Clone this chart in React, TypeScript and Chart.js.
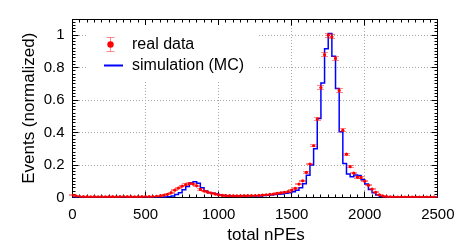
import React, { useEffect, useRef } from "react";
import { Chart, registerables } from "chart.js";

Chart.register(...registerables);

// ---- data ----
const binEdges = [
  0, 25, 50, 75, 100, 125, 150, 175, 200, 225,
  250, 275, 300, 325, 350, 375, 400, 425, 450, 475,
  500, 525, 550, 575, 600, 625, 650, 675, 700, 725,
  750, 775, 800, 825, 850, 875, 900, 925, 950, 975,
  1000, 1025, 1050, 1075, 1100, 1125, 1150, 1175, 1200, 1225,
  1250, 1275, 1300, 1325, 1350, 1375, 1400, 1425, 1450, 1475,
  1500, 1525, 1550, 1575, 1600, 1625, 1650, 1675, 1700, 1725,
  1750, 1775, 1800, 1825, 1850, 1875, 1900, 1925, 1950, 1975,
  2000, 2025, 2050, 2075, 2100, 2125, 2150, 2175, 2200, 2225,
  2250, 2275, 2300, 2325, 2350, 2375, 2400, 2425, 2450, 2475,
  2500,
];

const dataVals = [
  0.015, 0.008, 0.006, 0.005, 0.005, 0.004, 0.005, 0.004, 0.005, 0.004,
  0.005, 0.005, 0.004, 0.005, 0.006, 0.005, 0.005, 0.004, 0.005, 0.005,
  0.006, 0.005, 0.006, 0.007, 0.010, 0.014, 0.020, 0.030, 0.045, 0.058,
  0.070, 0.080, 0.086, 0.083, 0.072, 0.050, 0.040, 0.033, 0.027, 0.022,
  0.016, 0.013, 0.011, 0.011, 0.010, 0.010, 0.010, 0.011, 0.011, 0.012,
  0.012, 0.013, 0.015, 0.017, 0.019, 0.021, 0.025, 0.028, 0.032, 0.036,
  0.046, 0.056, 0.083, 0.103, 0.155, 0.206, 0.319, 0.483, 0.678, 0.880,
  1.000, 0.990, 0.857, 0.660, 0.415, 0.267, 0.190, 0.150, 0.125, 0.122,
  0.100, 0.075, 0.052, 0.032, 0.017, 0.009, 0.005, 0.004, 0.003, 0.003,
  0.002, 0.003, 0.002, 0.002, 0.003, 0.002, 0.002, 0.002, 0.002, 0.002,
];

const dataErr = [
  0.003, 0.002, 0.002, 0.002, 0.002, 0.002, 0.002, 0.002, 0.002, 0.002,
  0.002, 0.002, 0.002, 0.002, 0.002, 0.002, 0.002, 0.002, 0.002, 0.002,
  0.002, 0.002, 0.002, 0.002, 0.003, 0.003, 0.003, 0.003, 0.004, 0.004,
  0.004, 0.004, 0.004, 0.004, 0.004, 0.004, 0.003, 0.003, 0.003, 0.003,
  0.003, 0.003, 0.002, 0.002, 0.002, 0.002, 0.002, 0.002, 0.002, 0.002,
  0.002, 0.002, 0.002, 0.002, 0.002, 0.002, 0.003, 0.003, 0.003, 0.003,
  0.003, 0.003, 0.004, 0.004, 0.005, 0.005, 0.007, 0.008, 0.010, 0.012,
  0.013, 0.013, 0.012, 0.010, 0.008, 0.007, 0.006, 0.005, 0.005, 0.005,
  0.004, 0.004, 0.003, 0.003, 0.002, 0.002, 0.002, 0.002, 0.002, 0.002,
  0.002, 0.002, 0.002, 0.002, 0.002, 0.002, 0.002, 0.002, 0.002, 0.002,
];

const mcVals = [
  0.002, 0.002, 0.002, 0.002, 0.002, 0.002, 0.002, 0.002, 0.002, 0.002,
  0.002, 0.002, 0.002, 0.002, 0.002, 0.002, 0.002, 0.002, 0.002, 0.002,
  0.002, 0.002, 0.002, 0.002, 0.002, 0.003, 0.005, 0.010, 0.018, 0.030,
  0.048, 0.068, 0.090, 0.097, 0.088, 0.060, 0.040, 0.030, 0.026, 0.022,
  0.016, 0.012, 0.010, 0.009, 0.009, 0.009, 0.009, 0.009, 0.009, 0.009,
  0.009, 0.010, 0.012, 0.014, 0.016, 0.018, 0.020, 0.022, 0.026, 0.030,
  0.035, 0.045, 0.060, 0.085, 0.137, 0.200, 0.300, 0.487, 0.705, 0.916,
  1.010, 0.870, 0.672, 0.405, 0.210, 0.145, 0.128, 0.138, 0.135, 0.110,
  0.083, 0.050, 0.030, 0.015, 0.006, 0.003, 0.001, 0.001, 0.001, 0.001,
  0.001, 0.001, 0.001, 0.001, 0.001, 0.001, 0.001, 0.001, 0.001, 0.001,
];

const xTickValues = [0, 500, 1000, 1500, 2000, 2500];
const yTickValues = [0, 0.2, 0.4, 0.6, 0.8, 1];
const seriesLabels = ["real data", "simulation (MC)"];
const xTitle = "total nPEs";
const yTitle = "Events (normalized)";

const FONT = "'Liberation Sans', Arial, Helvetica, sans-serif";
const RED = "#ff0000";
const ERR = "rgba(255,0,0,0.45)";
const BLUE = "#0000ff";

const crisp = (v: number) => Math.floor(v) + 0.5;

const errorBarPlugin = {
  id: "errorBars",
  afterDatasetDraw(chart: any, args: any) {
    if (args.index !== 1) return;
    const { ctx, scales } = chart;
    const xs = scales.x;
    const ys = scales.y;
    ctx.save();
    ctx.strokeStyle = ERR;
    ctx.lineWidth = 1;
    ctx.beginPath();
    for (let i = 0; i < dataVals.length; i++) {
      const px = crisp(xs.getPixelForValue(binEdges[i]));
      const y1 = ys.getPixelForValue(dataVals[i] - dataErr[i]);
      const y2 = ys.getPixelForValue(dataVals[i] + dataErr[i]);
      ctx.moveTo(px, y1);
      ctx.lineTo(px, y2);
      ctx.moveTo(px - 3.5, crisp(y1));
      ctx.lineTo(px + 3.5, crisp(y1));
      ctx.moveTo(px - 3.5, crisp(y2));
      ctx.lineTo(px + 3.5, crisp(y2));
    }
    ctx.stroke();
    ctx.restore();
  },
};

const framePlugin = {
  id: "frame",
  beforeDatasetsDraw(chart: any) {
    const { ctx, chartArea: a, scales } = chart;
    const xs = scales.x;
    const ys = scales.y;
    const L = crisp(a.left), R = crisp(a.right), T = crisp(a.top), B = crisp(a.bottom);
    ctx.save();
    ctx.strokeStyle = "#000";
    ctx.lineWidth = 1;
    ctx.beginPath();
    for (let v = 0; v <= 2500; v += 50) {
      const px = crisp(xs.getPixelForValue(v));
      const len = v % 500 === 0 ? 6 : 3;
      ctx.moveTo(px, B);
      ctx.lineTo(px, B - len);
      ctx.moveTo(px, T);
      ctx.lineTo(px, T + len);
    }
    for (let k = 0; k <= 55; k++) {
      const v = k * 0.02;
      const py = crisp(ys.getPixelForValue(v));
      const len = k % 10 === 0 ? 6 : 3;
      ctx.moveTo(L, py);
      ctx.lineTo(L + len, py);
      ctx.moveTo(R, py);
      ctx.lineTo(R - len, py);
    }
    ctx.stroke();
    ctx.strokeRect(L, T, R - L, B - T);
    ctx.restore();
  },
};

const legendPlugin = {
  id: "keyBox",
  afterDatasetsDraw(chart: any) {
    const { ctx } = chart;
    ctx.save();
    ctx.fillStyle = "#fff";
    ctx.fillRect(87, 25, 170, 55);
    // real data marker
    const mx = 110.5;
    const my = 44.5;
    ctx.strokeStyle = ERR;
    ctx.lineWidth = 1;
    ctx.beginPath();
    ctx.moveTo(mx, my - 7);
    ctx.lineTo(mx, my + 7);
    ctx.moveTo(mx - 4, my - 7);
    ctx.lineTo(mx + 4, my - 7);
    ctx.moveTo(mx - 4, my + 7);
    ctx.lineTo(mx + 4, my + 7);
    ctx.stroke();
    ctx.fillStyle = RED;
    ctx.beginPath();
    ctx.arc(mx, my, 3.2, 0, Math.PI * 2);
    ctx.fill();
    // MC line
    ctx.strokeStyle = BLUE;
    ctx.lineWidth = 2;
    ctx.beginPath();
    ctx.moveTo(104, 65.5);
    ctx.lineTo(123, 65.5);
    ctx.stroke();
    ctx.fillStyle = "#000";
    ctx.font = `16px ${FONT}`;
    ctx.textAlign = "left";
    ctx.textBaseline = "alphabetic";
    ctx.fillText(seriesLabels[0], 132, 49);
    ctx.fillText(seriesLabels[1], 132, 70);
    // x-axis title
    ctx.font = `17px ${FONT}`;
    ctx.textAlign = "center";
    ctx.fillText(xTitle, 266, 239.5);
    ctx.restore();
  },
};

export default function App() {
  const ref = useRef<HTMLCanvasElement | null>(null);

  useEffect(() => {
    const canvas = ref.current;
    if (!canvas) return;
    const dataPoints = dataVals.map((v, i) => ({ x: binEdges[i], y: v }));
    const mcPoints = binEdges.map((x, i) => ({
      x,
      y: mcVals[Math.min(i, mcVals.length - 1)],
    }));

    const chart = new Chart(canvas, {
      type: "line",
      data: {
        datasets: [
          {
            label: seriesLabels[0],
            data: dataPoints,
            showLine: false,
            pointRadius: 1.6,
            pointHoverRadius: 1.6,
            pointBackgroundColor: RED,
            pointBorderWidth: 0,
            borderColor: RED,
          },
          {
            label: seriesLabels[1],
            data: mcPoints,
            stepped: "before",
            borderColor: BLUE,
            borderWidth: 1.5,
            pointRadius: 0,
            pointHoverRadius: 0,
            fill: false,
          },
        ],
      },
      options: {
        animation: false,
        responsive: false,
        devicePixelRatio: 1,
        layout: { padding: { left: 10, right: 23.5, top: 19, bottom: 0 } },
        plugins: {
          legend: { display: false },
          tooltip: { enabled: false },
        },
        events: [],
        scales: {
          x: {
            type: "linear",
            min: 0,
            max: 2500,
            afterBuildTicks: (s: any) => {
              s.ticks = xTickValues.map((v) => ({ value: v }));
            },
            afterFit: (s: any) => {
              s.height = 53.5;
            },
            ticks: {
              color: "#000",
              font: { family: FONT, size: 15 },
              padding: 8.5,
              maxRotation: 0,
              callback: (v: any) => String(v),
            },
            grid: {
              color: "#a8a8a8",
              lineWidth: 1,
              drawTicks: false,
            },
            border: { display: false, dash: [1, 2] },
          },
          y: {
            type: "linear",
            min: 0,
            max: 1.1,
            afterBuildTicks: (s: any) => {
              s.ticks = yTickValues.map((v) => ({ value: v }));
            },
            afterFit: (s: any) => {
              s.width = 62.5;
            },
            ticks: {
              color: "#000",
              font: { family: FONT, size: 15 },
              padding: 8,
              callback: (v: any) => String(Number(Number(v).toFixed(1))),
            },
            grid: {
              color: "#a8a8a8",
              lineWidth: 1,
              drawTicks: false,
            },
            border: { display: false, dash: [1, 2] },
            title: {
              display: true,
              text: yTitle,
              color: "#000",
              font: { family: FONT, size: 17 },
              padding: { top: 8.8, bottom: 0 },
            },
          },
        },
      },
      plugins: [framePlugin, errorBarPlugin, legendPlugin],
    } as any);

    return () => chart.destroy();
  }, []);

  return (
    <div
      style={{
        position: "fixed",
        left: 0,
        top: 0,
        width: 463,
        height: 251,
        background: "#fff",
      }}
    >
      <canvas
        ref={ref}
        width={463}
        height={251}
        style={{ display: "block", width: 463, height: 251 }}
      />
    </div>
  );
}
